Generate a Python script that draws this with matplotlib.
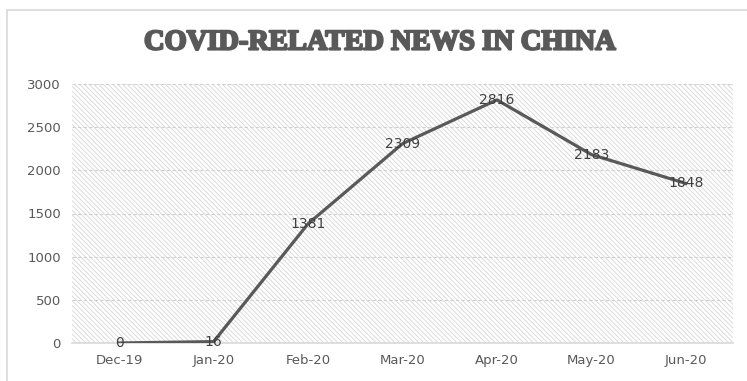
import matplotlib.pyplot as plt
import matplotlib.patheffects as pe
from matplotlib.patches import Rectangle

months = ['Dec-19', 'Jan-20', 'Feb-20', 'Mar-20', 'Apr-20', 'May-20', 'Jun-20']
news_count = [0, 16, 1381, 2309, 2816, 2183, 1848]
y_ticks = [0, 500, 1000, 1500, 2000, 2500, 3000]

grey = '#595959'

fig = plt.figure(figsize=(7.47, 3.81), dpi=100)
fig.patch.set_facecolor('white')

# light outer chart border
fig.patches.append(Rectangle((7 / 747, -0.05), 2, 1.0 - 10 / 381 + 0.05,
                             transform=fig.transFigure, fill=False,
                             edgecolor='#d9d9d9', linewidth=1.2))

ax = fig.add_axes([72 / 747, 1 - 343 / 381, 661 / 747, 259 / 381])

# hatched plot area background
plt.rcParams['hatch.linewidth'] = 0.6
ax.add_patch(Rectangle((0, 0), 1, 1, transform=ax.transAxes, facecolor='white',
                       edgecolor='#d6d6d6', hatch='\\\\\\\\\\\\\\', linewidth=0,
                       zorder=0))

x = list(range(len(months)))
ax.plot(x, news_count, color=grey, linewidth=2.3, zorder=3)
for xi, v in zip(x, news_count):
    ax.text(xi, v, str(v), ha='center', va='center', fontsize=10,
            color='#404040', zorder=4)

ax.set_xlim(-0.5, len(months) - 0.5)
ax.set_ylim(0, 3000)
ax.set_xticks(x)
ax.set_xticklabels(months)
ax.set_yticks(y_ticks)
ax.tick_params(length=0, labelsize=9.5, labelcolor=grey, pad=8)
ax.grid(axis='y', color='#d0d0d0', linestyle=(0, (3, 2)), linewidth=0.8, zorder=1)
ax.set_axisbelow(True)
for s in ['top', 'right', 'left']:
    ax.spines[s].set_visible(False)
ax.spines['bottom'].set_color('#d9d9d9')
ax.spines['bottom'].set_linewidth(1.2)

fig.text(380 / 747, 1 - 43 / 381, 'COVID-RELATED NEWS IN CHINA', ha='center',
         va='center', fontsize=20.5, fontweight='bold', family='Liberation Serif',
         color=grey,
         path_effects=[pe.withStroke(linewidth=1.6, foreground=grey)])

fig.savefig('out.png', dpi=100)
